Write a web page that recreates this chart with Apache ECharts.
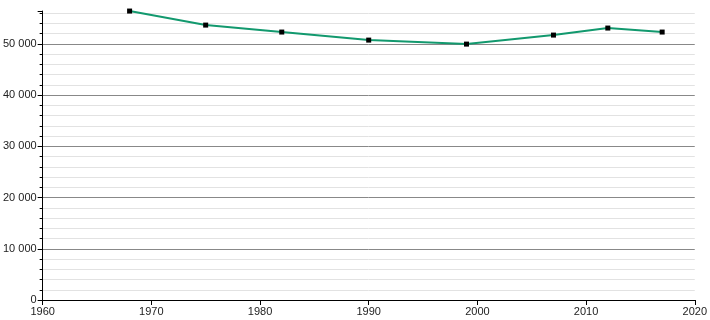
<!DOCTYPE html>
<html><head><meta charset="utf-8">
<script src="https://cdn.jsdelivr.net/npm/echarts@6/dist/echarts.min.js"></script>
<style>html,body{margin:0;padding:0;background:#fff}#c{width:710px;height:320px}</style>
</head><body><div id="c"></div>
<script>
const years = [1968, 1975, 1982, 1990, 1999, 2007, 2012, 2017];
const population = [56390, 53650, 52290, 50720, 49940, 51700, 53070, 52290];
const xTicks = [1960, 1970, 1980, 1990, 2000, 2010, 2020];
const yTicks = [0, 10000, 20000, 30000, 40000, 50000];

const fmt = v => String(v).replace(/\B(?=(\d{3})+(?!\d))/g, ' ');
const chart = echarts.init(document.getElementById('c'), null, {renderer: 'canvas'});
chart.setOption({
  animation: false,
  grid: {left: 42, right: 12, top: 11, bottom: 20, containLabel: false},
  xAxis: {
    type: 'value', min: xTicks[0], max: xTicks[xTicks.length - 1], interval: 10,
    axisLine: {lineStyle: {color: '#000', width: 1}},
    axisTick: {show: true, length: 5, lineStyle: {color: '#000'}},
    axisLabel: {color: '#222', fontSize: 11, fontFamily: 'Liberation Sans, Arial, sans-serif', margin: 6,
      formatter: v => xTicks.includes(v) ? String(v) : ''},
    splitLine: {show: false}
  },
  yAxis: {
    type: 'value', min: 0, max: 56400, interval: 10000,
    axisLine: {show: true, lineStyle: {color: '#000', width: 1}},
    axisTick: {show: true, length: 5, lineStyle: {color: '#000'}},
    minorTick: {show: true, splitNumber: 5, length: 3, lineStyle: {color: '#000'}},
    axisLabel: {color: '#222', fontSize: 11, fontFamily: 'Liberation Sans, Arial, sans-serif', margin: 6,
      showMaxLabel: false,
      formatter: v => yTicks.includes(v) ? fmt(v) : ''},
    splitLine: {show: true, lineStyle: {color: ['#888', '#888', '#888', '#888', '#888', '#888', 'rgba(0,0,0,0)'], width: 1}},
    minorSplitLine: {show: true, lineStyle: {color: '#e2e2e2', width: 1}}
  },
  series: [{
    type: 'line',
    data: years.map((y, i) => [y, population[i]]),
    smooth: false,
    symbol: 'rect', symbolSize: 5,
    itemStyle: {color: '#000'},
    lineStyle: {color: '#12996e', width: 2},
    z: 3
  }]
});
</script></body></html>
